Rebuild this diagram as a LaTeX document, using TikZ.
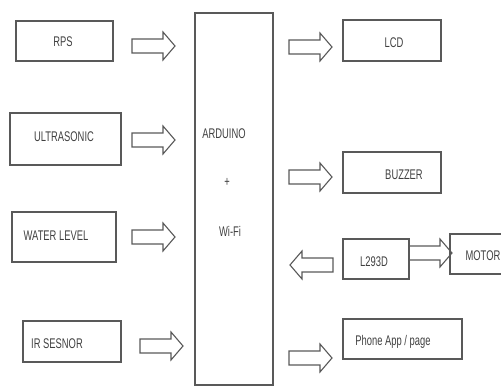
\documentclass[tikz,border=0pt]{standalone}
\usepackage{fontspec}
\setmainfont{Liberation Sans}
\begin{document}
\begin{tikzpicture}[x=1pt,y=-1pt,
  boxline/.style={draw=black!65,line width=1.3pt},
  lbl/.style={inner sep=0pt,font=\fontsize{14}{15}\selectfont,text=black!75},
  arrowline/.style={draw=black!65,line width=1.1pt,line join=miter},
  barrow/.pic={\draw[arrowline] (0,-7) -- (31,-7) -- (31,-14) -- (43,0) -- (31,14) -- (31,7) -- (0,7) -- cycle;}]
\useasboundingbox (0,0) rectangle (501,387);
\newcommand{\cz}[1]{\scalebox{0.67}[1]{#1}}
% boxes
\draw[boxline] (16,21) rectangle (113,61);
\draw[boxline] (10,113) rectangle (121,165);
\draw[boxline] (12,212) rectangle (116,262);
\draw[boxline] (23,321) rectangle (121,362);
\draw[boxline] (195,13) rectangle (273,385);
\draw[boxline] (343,20) rectangle (441,61);
\draw[boxline] (343,152) rectangle (441,193);
\draw[boxline] (343,239) rectangle (409,279);
\draw[boxline] (450,234) rectangle (512,274);
\draw[boxline] (343,319) rectangle (462,359);
% labels
\node[lbl] (rps) at (63,42) {\cz{RPS}};
\node[lbl] (ultra) at (64,137) {\cz{ULTRASONIC}};
\node[lbl] (water) at (56,236) {\cz{WATER LEVEL}};
\node[lbl] (ir) at (57,344) {\cz{IR SESNOR}};
\node[lbl] (ard) at (224,134) {\cz{ARDUINO}};
\node[lbl] (plus) at (227,182) {\cz{+}};
\node[lbl] (wifi) at (230,231) {\cz{Wi-Fi}};
\node[lbl] (lcd) at (394,43) {\cz{LCD}};
\node[lbl] (buzz) at (404,175) {\cz{BUZZER}};
\node[lbl] (l293) at (374,262) {\cz{L293D}};
\node[lbl] (motor) at (483,256) {\cz{MOTOR}};
\node[lbl] (phone) at (393,342) {\cz{Phone App / page}};
% block arrows
\pic at (132,46) {barrow};
\pic at (132,140) {barrow};
\pic at (132,237) {barrow};
\pic at (140,346) {barrow};
\pic at (289,47) {barrow};
\pic at (289,177) {barrow};
\pic[xscale=-1] at (333,265) {barrow};
\pic at (289,358) {barrow};
\pic at (409,253) {barrow};
\end{tikzpicture}
\end{document}
